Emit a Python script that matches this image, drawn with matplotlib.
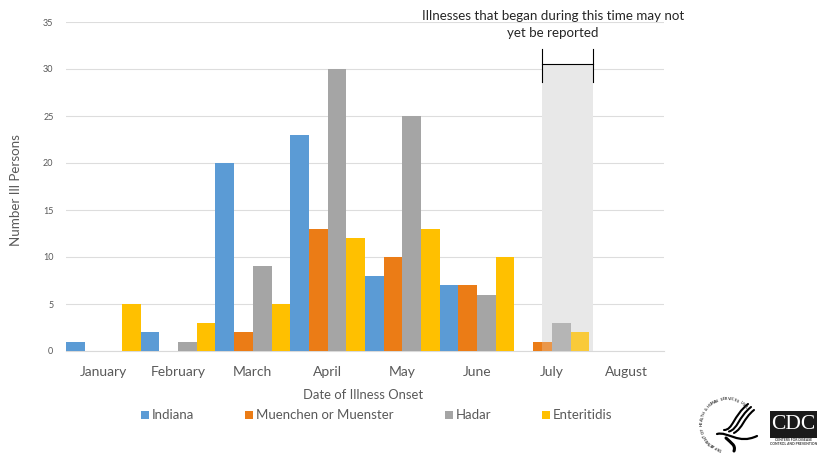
import numpy as np
import matplotlib
matplotlib.use("Agg")
import matplotlib.pyplot as plt
from matplotlib.patches import Rectangle, PathPatch
from matplotlib.path import Path
from matplotlib.lines import Line2D

plt.rcParams['font.family'] = ['Lato', 'DejaVu Sans']

W, H = 829, 458

months = ["January", "February", "March", "April", "May", "June", "July", "August"]
indiana = [1, 2, 20, 23, 8, 7, 0, 0]
muenchen = [0, 0, 2, 13, 10, 7, 1, 0]
hadar = [0, 1, 9, 30, 25, 6, 3, 0]
enteritidis = [5, 3, 5, 12, 13, 10, 2, 0]
y_ticks = [0, 5, 10, 15, 20, 25, 30, 35]

series_names = ["Indiana", "Muenchen or Muenster", "Hadar", "Enteritidis"]
series_colors = ["#5B9BD5", "#EB7C16", "#A5A5A5", "#FFC000"]
legend_marker_x = [141, 245, 445, 542]


def fx(px):
    return px / W


def fy(py):
    return 1 - py / H


def ftext(px, py, s, **kw):
    kw.setdefault("ha", "center")
    kw.setdefault("va", "center")
    return fig.text(fx(px), fy(py), s, **kw)


def fline(xs, ys, **kw):
    fig.add_artist(Line2D([fx(x) for x in xs], [fy(y) for y in ys], **kw))


def fcurve(verts, lw):
    p = Path([(fx(a), fy(b)) for a, b in verts], [Path.MOVETO, Path.CURVE4, Path.CURVE4, Path.CURVE4])
    fig.add_artist(PathPatch(p, transform=fig.transFigure, fc="none", ec="black", lw=lw, capstyle="round"))


fig = plt.figure(figsize=(W / 100, H / 100), dpi=100)
ax = fig.add_axes([fx(66), fy(351), 598 / W, 329 / H])

x = np.arange(len(months))
bar_w = 0.25
for i, vals in enumerate([indiana, muenchen, hadar, enteritidis]):
    ax.bar(x + (i - 1.5) * bar_w, vals, bar_w, color=series_colors[i], zorder=3)

ax.set_xlim(-0.5, 7.5)
ax.set_ylim(0, 35)
ax.set_yticks(y_ticks)
ax.set_xticks(x)
ax.set_xticklabels(months, fontsize=10, color="#595959")
ax.tick_params(axis="x", length=0, pad=11)
ax.tick_params(axis="y", length=0, pad=9, labelsize=6.5, labelcolor="#595959")
ax.grid(axis="y", color="#DDDDDD", lw=0.8, zorder=1)
ax.set_axisbelow(True)
for s in ["top", "right", "left"]:
    ax.spines[s].set_visible(False)
ax.spines["bottom"].set_color("#D9D9D9")
ax.patch.set_visible(False)

# grey reporting-delay box, opaque behind the bars and a thin layer on top
box_xy = (fx(542), fy(351))
ax.add_artist(Rectangle(box_xy, 51 / W, 286 / H, transform=fig.transFigure,
                        color="#E8E8E8", lw=0, zorder=2))
ax.add_artist(Rectangle(box_xy, 51 / W, 286 / H, transform=fig.transFigure,
                        color="#E8E8E8", alpha=0.25, lw=0, zorder=5))

fline([542, 542], [49, 82], color="black", lw=0.8, zorder=6)
fline([593, 593], [49, 82], color="black", lw=0.8, zorder=6)
fline([542, 593], [64, 64], color="black", lw=0.8, zorder=6)

ftext(553, 15.5, "Illnesses that began during this time may not", fontsize=9.6, color="#262626")
ftext(553, 33, "yet be reported", fontsize=9.6, color="#262626")

ftext(16.5, 190, "Number Ill Persons", fontsize=9.6, rotation=90, color="#595959")
ftext(363, 395, "Date of Illness Onset", fontsize=9.4, color="#595959")

for name, col, mx in zip(series_names, series_colors, legend_marker_x):
    fig.add_artist(Rectangle((fx(mx), fy(419)), 8 / W, 8 / H, transform=fig.transFigure,
                             color=col, lw=0))
    ftext(mx + 11, 415, name, fontsize=9.5, color="#595959", ha="left")

# HHS seal, lettering around the left of the ring
cx, cy, r = 727, 424, 25
seal = "DEPARTMENT OF HEALTH & HUMAN SERVICES USA"
for ch, deg in zip(seal, np.linspace(255, 45, len(seal))):
    a = np.radians(deg)
    ftext(cx + r * np.cos(a), cy - r * np.sin(a), ch, fontsize=2.8, color="#333333",
          rotation=deg - 90, fontweight="bold")

# eagle: three wing strokes, body and tail
for off in [0, 5, 10]:
    fcurve([(724 + off, 430 + off * 0.3), (733 + off, 430 - off * 0.2),
            (733 + off, 416 + off * 0.3), (748 + off * 0.6, 404 + off * 0.6)], 1.5)
fcurve([(717, 434), (728, 431), (738, 445), (757, 436)], 1.6)
fcurve([(726, 438), (731, 443), (736, 445), (734, 451)], 2.2)

# CDC logo
fig.add_artist(Rectangle((fx(770), fy(438)), 47 / W, 27 / H, transform=fig.transFigure, color="#1A1A1A", lw=0))
ftext(793.5, 424.5, "CDC", fontsize=15.5, color="white", family="Liberation Serif")
ftext(793.5, 442, "CENTERS FOR DISEASE\nCONTROL AND PREVENTION", fontsize=2.4, color="#333333",
      linespacing=1.0, fontweight="bold")

fig.savefig("out.png", dpi=100)
